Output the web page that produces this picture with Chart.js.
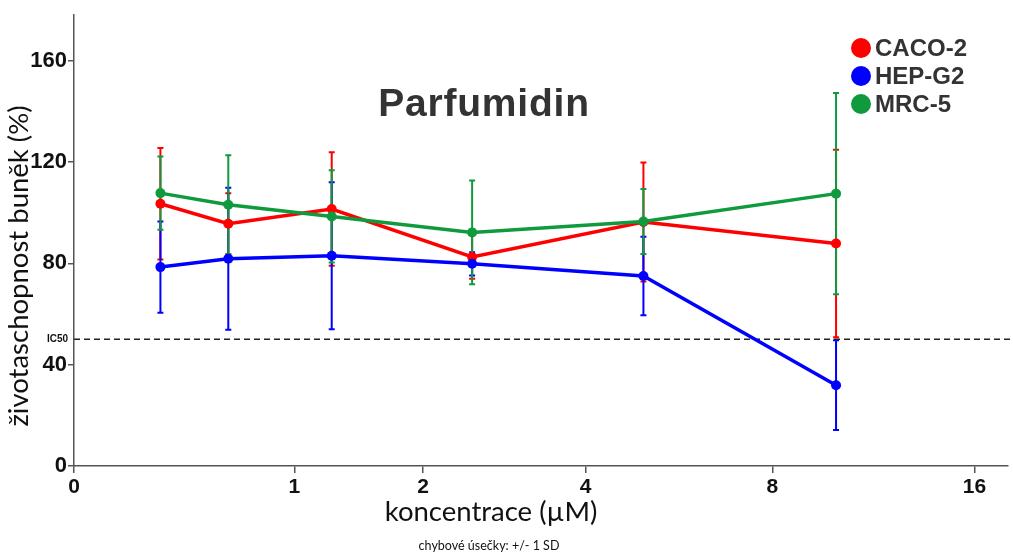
<!DOCTYPE html>
<html><head><meta charset="utf-8">
<script src="https://cdn.jsdelivr.net/npm/chart.js@4/dist/chart.umd.min.js"></script>
<style>html,body{margin:0;padding:0;background:#fff;overflow:hidden}#wrap{width:1013px;height:556px}</style>
</head><body><div id="wrap"><canvas id="c" width="1013" height="556"></canvas></div>
<script>
// ---- data ----
const concentrations = [0.3125, 0.625, 1.25, 2.5, 5, 10];   // µM
const xTickValues = [0, 1, 2, 4, 8, 16];
const yTickValues = [0, 40, 80, 120, 160];
const seriesNames = ['CACO-2', 'HEP-G2', 'MRC-5'];
const cacoMean = [103.5, 95.6, 101.4, 82.5, 96.3, 87.8];
const cacoSD   = [22, 12, 22.4, 8.6, 23.5, 37];
const hepMean  = [78.5, 81.8, 83.0, 79.8, 75.0, 31.9];
const hepSD    = [18, 28, 29, 4.6, 15.5, 17.7];
const mrcMean  = [107.7, 103.1, 98.5, 92.2, 96.5, 107.5];
const mrcSD    = [14.5, 19.5, 18.2, 20.5, 12.8, 39.7];
const ic50 = 50;
const chartTitle = 'Parfumidin';
const xTitle = 'koncentrace (µM)';
const yTitle = 'životaschopnost buněk (%)';
const footnote = 'chybové úsečky: +/- 1 SD';

// axis transform: log2(x+1)
const tx = c => Math.log2(c + 1);

const colors = ['#ff0000', '#0000ff', '#109a3e'];
const means = [cacoMean, hepMean, mrcMean];
const sds = [cacoSD, hepSD, mrcSD];

const datasets = seriesNames.map((n, i) => ({
  label: n,
  data: concentrations.map((c, j) => ({x: tx(c), y: means[i][j]})),
  borderColor: colors[i],
  backgroundColor: colors[i],
  borderWidth: 3.5,
  pointRadius: 5,
  pointHoverRadius: 5,
  pointBorderWidth: 0,
  tension: 0,
  order: [2, 1, 0][i]
}));

const errorBars = {
  id: 'errorBars',
  beforeDatasetsDraw(chart) {
    const {ctx, scales: {x, y}} = chart;
    ctx.save();
    ctx.lineWidth = 2;
    [0, 1, 2].forEach(i => {
      ctx.strokeStyle = colors[i];
      concentrations.forEach((c, j) => {
        const px = x.getPixelForValue(tx(c));
        const top = y.getPixelForValue(means[i][j] + sds[i][j]);
        const bot = y.getPixelForValue(means[i][j] - sds[i][j]);
        ctx.beginPath();
        ctx.moveTo(px, top); ctx.lineTo(px, bot);
        ctx.moveTo(px - 3, top); ctx.lineTo(px + 3, top);
        ctx.moveTo(px - 3, bot); ctx.lineTo(px + 3, bot);
        ctx.stroke();
      });
    });
    // IC50 line
    const py = y.getPixelForValue(ic50);
    ctx.strokeStyle = '#222';
    ctx.lineWidth = 1.5;
    ctx.setLineDash([6, 4]);
    ctx.beginPath();
    ctx.moveTo(chart.chartArea.left, py); ctx.lineTo(1013, py);
    ctx.stroke();
    ctx.setLineDash([]);
    ctx.restore();
  }
};

const decorations = {
  id: 'decorations',
  afterDraw(chart) {
    const {ctx, scales: {y}} = chart;
    ctx.save();
    // title
    ctx.fillStyle = '#333';
    ctx.font = 'bold 39px "Liberation Sans", Arial, sans-serif';
    ctx.letterSpacing = '0.8px';
    ctx.textAlign = 'center';
    ctx.textBaseline = 'alphabetic';
    ctx.fillText(chartTitle, 484, 116);
    ctx.letterSpacing = '0px';
    // legend
    ctx.font = 'bold 24px "Liberation Sans", Arial, sans-serif';
    ctx.textAlign = 'left';
    ctx.textBaseline = 'middle';
    seriesNames.forEach((n, i) => {
      const cy = 48 + i * 28;
      ctx.fillStyle = colors[i];
      ctx.beginPath(); ctx.arc(861, cy, 10, 0, Math.PI * 2); ctx.fill();
      ctx.fillStyle = '#333';
      ctx.fillText(n, 875, cy + 1);
    });
    // IC50 label
    ctx.fillStyle = '#111';
    ctx.font = 'bold 10px "Liberation Sans", Arial, sans-serif';
    ctx.textAlign = 'right';
    ctx.fillText('IC50', 68, y.getPixelForValue(ic50));
    // axis titles
    ctx.fillStyle = '#111';
    ctx.font = '27.5px Lato, "Open Sans", sans-serif';
    ctx.textAlign = 'center';
    ctx.textBaseline = 'middle';
    ctx.fillText(xTitle, 491, 512);
    ctx.save();
    ctx.translate(19, 266);
    ctx.rotate(-Math.PI / 2);
    ctx.fillText(yTitle, 0, 0);
    ctx.restore();
    ctx.font = '12.5px Lato, "Open Sans", sans-serif';
    ctx.fillText(footnote, 489, 546);
    ctx.restore();
  }
};

new Chart(document.getElementById('c'), {
  type: 'line',
  data: {datasets},
  options: {
    responsive: false,
    animation: false,
    devicePixelRatio: 1,
    layout: {padding: {top: 15, right: 0, left: 0, bottom: 0}},
    plugins: {legend: {display: false}, tooltip: {enabled: false}, title: {display: false}},
    scales: {
      x: {
        type: 'linear',
        min: 0,
        max: 4.24,
        afterBuildTicks: s => { s.ticks = xTickValues.map(v => ({value: tx(v)})); },
        afterFit: s => { s.height = 90; },
        ticks: {
          callback: (v, i) => String(xTickValues[i]),
          font: {family: '"Liberation Sans", Arial, sans-serif', size: 21, weight: 'bold'},
          color: '#111', padding: 2, autoSkip: false, maxRotation: 0
        },
        grid: {drawOnChartArea: false, drawTicks: true, tickLength: 7, color: '#555', lineWidth: 1.5},
        border: {color: '#555', width: 1.5}
      },
      y: {
        min: 0,
        max: 178,
        afterBuildTicks: s => { s.ticks = yTickValues.map(v => ({value: v})); },
        afterFit: s => { s.width = 74; },
        ticks: {
          font: {family: '"Liberation Sans", Arial, sans-serif', size: 22, weight: 'bold'},
          color: '#111', padding: 1
        },
        grid: {drawOnChartArea: false, drawTicks: true, tickLength: 6, color: '#555', lineWidth: 1.5},
        border: {color: '#555', width: 1.5}
      }
    }
  },
  plugins: [errorBars, decorations]
});
</script>
</body></html>
